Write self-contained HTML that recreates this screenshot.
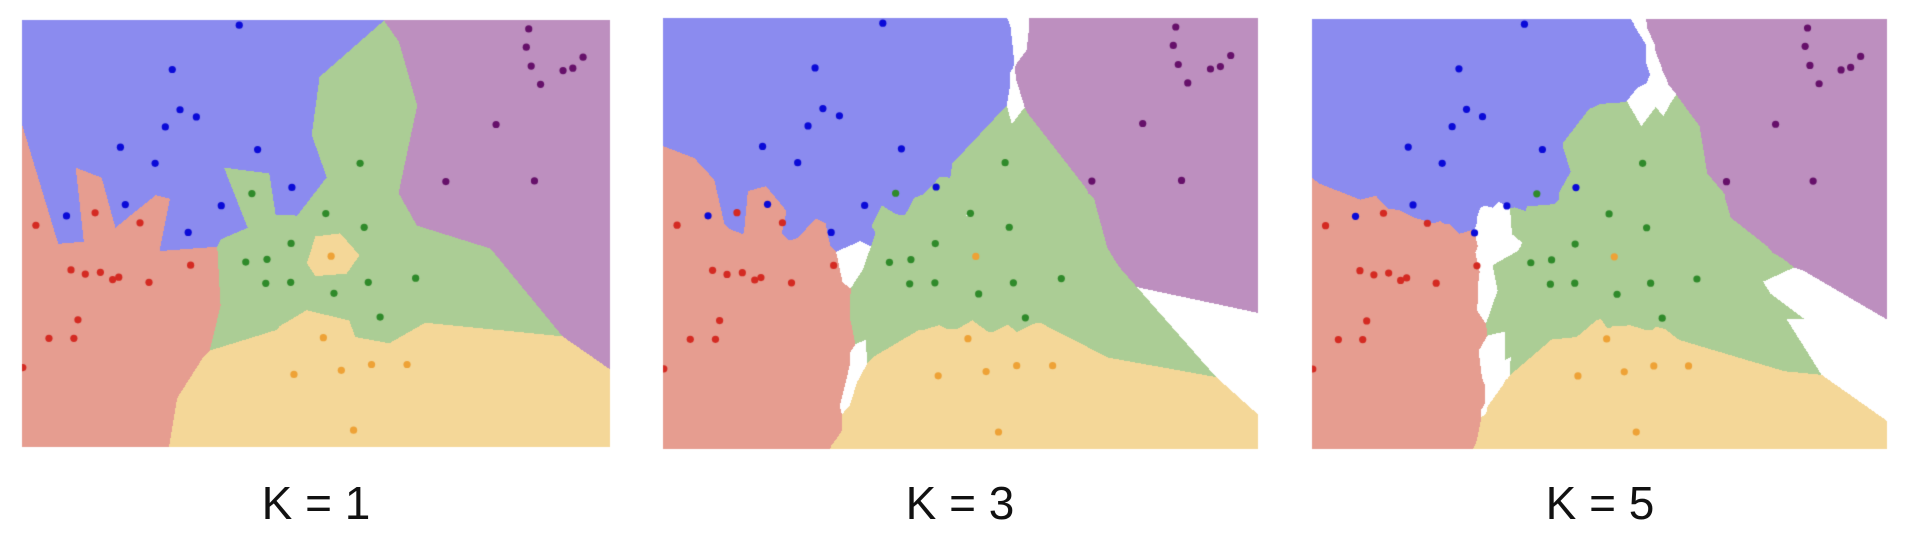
<!DOCTYPE html>
<html><head><meta charset="utf-8">
<style>
html,body{margin:0;padding:0;background:#fff;width:1905px;height:539px;overflow:hidden;}
#wrap{position:relative;width:1905px;height:539px;}
canvas{position:absolute;left:0;top:0;}
.lbl{position:absolute;top:476px;font-family:"Liberation Sans",sans-serif;font-size:46px;color:#111;text-align:center;width:400px;}
</style></head>
<body>
<div id="wrap">
<canvas id="cv" width="1905" height="539"></canvas>
<div class="lbl" style="left:116px">K = 1</div>
<div class="lbl" style="left:760px">K = 3</div>
<div class="lbl" style="left:1400px">K = 5</div>
</div>
<script>
// points in normalized panel coords (from reference, zoom space 1440x1242)
const blueX=[585,421,440,480,404,294,379,630,714,306,541,162,460];
const blueY=[73,202,319,340,369,428,475,435,545,595,598,628,676];
const purpleX=[1294,1288,1300,1427,1402,1378,1323,1214,1091,1308];
const purpleY=[84,137,192,166,198,205,245,362,528,526];
const greenX=[881,616,797,891,712,653,601,650,711,901,1017,817,930];
const greenY=[475,563,621,661,708,754,762,824,821,821,809,853,922];
const orangeX=[810,791,909,996,835,719,865];
const orangeY=[745,982,1060,1060,1077,1089,1251];
const redX=[232,87,342,466,173,208,245,290,275,364,190,119,180,55];
const redY=[619,655,648,771,785,797,792,806,813,821,930,984,984,1069];
const kValues=[1,3,5];

const classes=[
 {xs:blueX,ys:blueY,region:[139,139,239],dot:'#0a0ad8'},
 {xs:purpleX,ys:purpleY,region:[189,143,191],dot:'#66106a'},
 {xs:greenX,ys:greenY,region:[171,205,149],dot:'#2f8a2a'},
 {xs:orangeX,ys:orangeY,region:[244,215,152],dot:'#eea236'},
 {xs:redX,ys:redY,region:[230,157,144],dot:'#d42a22'}
];
const panels=[{x:22,y:20,w:588,h:427},{x:663,y:18,w:595,h:431},{x:1312,y:19,w:575,h:430}];
const cv=document.getElementById('cv');const ctx=cv.getContext('2d');
function ptsFor(p){const a=[];classes.forEach((c,ci)=>{c.xs.forEach((x,i)=>{a.push({x:p.x+(x-53)/1440*p.w,y:p.y+(c.ys[i]-58)/1242*p.h,c:ci});});});return a;}
panels.forEach((p,pi)=>{
 const K=kValues[pi];const pts=ptsFor(p);
 const img=ctx.createImageData(p.w,p.h);const d=img.data;
 for(let j=0;j<p.h;j++){for(let i=0;i<p.w;i++){
  const px=p.x+i+0.5,py=p.y+j+0.5;
  const best=[];
  for(let n=0;n<pts.length;n++){const dx=pts[n].x-px,dy=pts[n].y-py;const dd=dx*dx+dy*dy;
   if(best.length<K||dd<best[best.length-1][0]){best.push([dd,pts[n].c]);best.sort((a,b)=>a[0]-b[0]);if(best.length>K)best.pop();}}
  const cnt=[0,0,0,0,0];best.forEach(b=>cnt[b[1]]++);
  let mx=-1,mc=-1,tie=false;cnt.forEach((v,ci)=>{if(v>mx){mx=v;mc=ci;tie=false;}else if(v===mx)tie=true;});
  const o=(j*p.w+i)*4;let col=tie?[255,255,255]:classes[mc].region;
  d[o]=col[0];d[o+1]=col[1];d[o+2]=col[2];d[o+3]=255;}}
 ctx.putImageData(img,p.x,p.y);
 ctx.save();ctx.beginPath();ctx.rect(p.x,p.y,p.w,p.h);ctx.clip();
 pts.forEach(pt=>{ctx.beginPath();ctx.arc(pt.x,pt.y,3.6,0,Math.PI*2);ctx.fillStyle=classes[pt.c].dot;ctx.fill();});
 ctx.restore();
});
</script>
</body></html>
